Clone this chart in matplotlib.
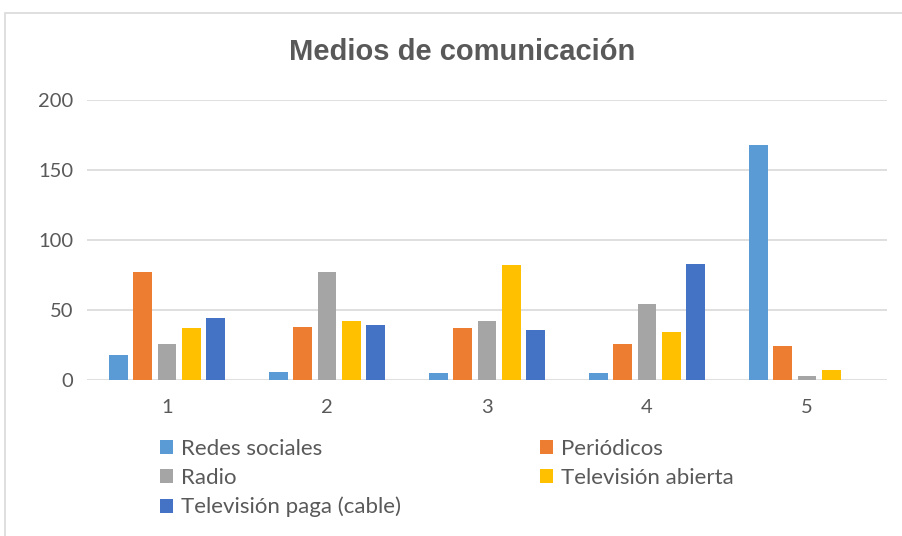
import matplotlib.pyplot as plt
import matplotlib.patches as patches
import numpy as np

# data
groups = ['1', '2', '3', '4', '5']
series_names = ['Redes sociales', 'Periódicos', 'Radio', 'Televisión abierta', 'Televisión paga (cable)']
redes = [18, 6, 5, 5, 168]
periodicos = [77, 38, 37, 26, 24]
radio = [26, 77, 42, 54, 3]
tv_abierta = [37, 42, 82, 34, 7]
tv_paga = [44, 39, 36, 83, 0]
colors = ['#5B9BD5', '#ED7D31', '#A5A5A5', '#FFC000', '#4472C4']

series = [redes, periodicos, radio, tv_abierta, tv_paga]

plt.rcParams['font.family'] = ['Lato', 'DejaVu Sans']

W, H = 903, 536
fig = plt.figure(figsize=(W / 100, H / 100), dpi=100)

# chart frame
frame = patches.Rectangle((5 / W, -0.1), 1.2, 1 - 13 / H + 0.1, transform=fig.transFigure,
                          facecolor='none', edgecolor='#D9D9D9', linewidth=1.2)
fig.patches.append(frame)

ax = fig.add_axes([87 / W, 1 - 380 / H, 800 / W, 280 / H])

x = np.arange(len(groups))
width = 0.118
step = 0.151
bars = []
for i, (vals, name, c) in enumerate(zip(series, series_names, colors)):
    b = ax.bar(x + (i - 2) * step, vals, width, color=c, label=name, zorder=3)
    bars.append(b)

ax.set_xlim(-0.5, len(groups) - 0.5)
ax.set_ylim(0, 200)
ax.set_yticks([0, 50, 100, 150, 200])
ax.set_xticks(x)
ax.set_xticklabels(groups)
ax.grid(axis='y', color='#D9D9D9', linewidth=1.2, zorder=0)
ax.tick_params(length=0, labelsize=14.5, colors='#595959')
ax.tick_params(axis='y', pad=10)
ax.tick_params(axis='x', pad=14)
for s in ax.spines.values():
    s.set_visible(False)

fig.text(0.5 * (289 + 636) / W, 1 - 52 / H, 'Medios de comunicación', ha='center', va='center',
         fontsize=21, fontweight='bold', color='#595959', family='Liberation Sans')

# legend filled row by row like the original
order = [0, 2, 4, 1, 3]
leg = fig.legend([bars[i] for i in order], [series_names[i] for i in order], ncol=2,
                 loc='upper left', bbox_to_anchor=(149 / W, 1 - 428 / H), frameon=False,
                 fontsize=16, labelcolor='#595959', handlelength=0.6, handleheight=0.6,
                 handletextpad=0.35, columnspacing=6.25, labelspacing=0.4, borderpad=0)

fig.savefig('out.png', dpi=100)
